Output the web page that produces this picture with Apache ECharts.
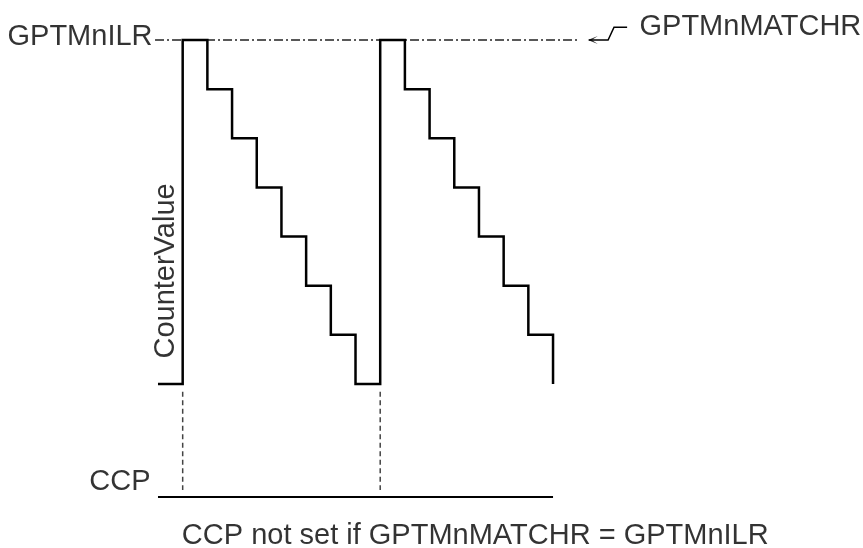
<!DOCTYPE html>
<html>
<head>
<meta charset="utf-8">
<script src="https://cdn.jsdelivr.net/npm/echarts@6/dist/echarts.min.js"></script>
<style>
html,body{margin:0;padding:0;background:#fff;}
#chart{width:863px;height:548px;}
</style>
</head>
<body>
<div id="chart"></div>
<script>
// ---- data ----
const timeSteps = [0,1,2,3,4,5,6,7,8,9,10,11,12,13,14,15,16];
const counterLevels = [0,7,6,5,4,3,2,1,0,7,6,5,4,3,2,1,0];
const ilrLevel = 7;
const ilrLineStart = -0.12;
const ilrLineEnd = 17.0;
const ccpLevel = -2.3;
const ccpStart = 0;
const ccpEnd = 16;
const ccpEventTimes = [1, 9];
const eventLineTop = -0.16;
const eventLineBottom = -2.16;
const arrowX = [19.0, 18.47, 18.23, 17.45];
const arrowY = [7.26, 7.26, 7, 7];
const labelTexts = ['GPTMnILR', 'GPTMnMATCHR', 'CounterValue', 'CCP', 'CCP not set if GPTMnMATCHR = GPTMnILR'];
const labelX = [-0.14, 19.42, 0.33, -0.22, 12.85];
const labelY = [7.06, 7.26, 2.3, -2.0, -3.1];

const FONT = 'Liberation Sans, Arial, sans-serif';

const counterData = timeSteps.map((t, i) => [t, counterLevels[i]]);
const ilrData = [[ilrLineStart, ilrLevel], [ilrLineEnd, ilrLevel]];
const ccpData = [[ccpStart, ccpLevel], [ccpEnd, ccpLevel]];
const arrowData = arrowX.map((x, i) => [x, arrowY[i]]);
const arrowHead = [arrowData[arrowData.length - 1]];

const labelPositions = ['left', 'right', 'inside', 'left', 'inside'];
const labelRotates = [0, 0, 90, 0, 0];
const labelData = labelTexts.map((txt, i) => ({
  value: [labelX[i], labelY[i]],
  label: {
    show: true,
    formatter: txt,
    position: labelPositions[i],
    distance: 2,
    rotate: labelRotates[i],
    color: '#000',
    fontSize: 29,
    fontFamily: FONT,
    align: labelPositions[i] === 'left' ? 'right' : (labelPositions[i] === 'right' ? 'left' : 'center'),
    verticalAlign: 'middle'
  }
}));

const eventSeries = ccpEventTimes.map(t => ({
  type: 'line',
  data: [[t, eventLineTop], [t, eventLineBottom]],
  symbol: 'none',
  clip: false,
  silent: true,
  lineStyle: { color: '#444', width: 1.5, type: [5, 3.5] },
  z: 1
}));

const chart = echarts.init(document.getElementById('chart'), null, { renderer: 'canvas' });
chart.setOption({
  animation: false,
  backgroundColor: '#fff',
  grid: { left: 133.3, right: 211.2, top: 15.43, bottom: 16.6 },
  xAxis: { type: 'value', min: -1, max: 20, show: false },
  yAxis: { type: 'value', min: -3, max: 7.5, show: false },
  series: [
    {
      type: 'line',
      data: ilrData,
      symbol: 'none',
      clip: false,
      silent: true,
      lineStyle: { color: '#222', width: 1.5, type: [9, 3, 2, 3] },
      z: 1
    },
    {
      type: 'line',
      data: counterData,
      step: 'end',
      symbol: 'none',
      clip: false,
      silent: true,
      lineStyle: { color: '#000', width: 2.5, join: 'miter' },
      z: 3
    },
    {
      type: 'line',
      data: ccpData,
      symbol: 'none',
      clip: false,
      silent: true,
      lineStyle: { color: '#000', width: 2 },
      z: 3
    },
    ...eventSeries,
    {
      type: 'line',
      data: arrowData,
      symbol: 'none',
      clip: false,
      silent: true,
      lineStyle: { color: '#000', width: 1.5, join: 'miter' },
      z: 3
    },
    {
      type: 'scatter',
      data: arrowHead,
      symbol: 'path://M10,0 L0,5 L10,10 L4,5 Z',
      symbolSize: [10, 8],
      symbolOffset: [4, 0],
      clip: false,
      silent: true,
      itemStyle: { color: '#000' },
      z: 4
    },
    {
      type: 'scatter',
      data: labelData,
      symbolSize: 0,
      clip: false,
      silent: true,
      itemStyle: { color: 'transparent' },
      label: { color: '#000', fontSize: 29, fontFamily: FONT },
      z: 5
    }
  ]
});
</script>
</body>
</html>
